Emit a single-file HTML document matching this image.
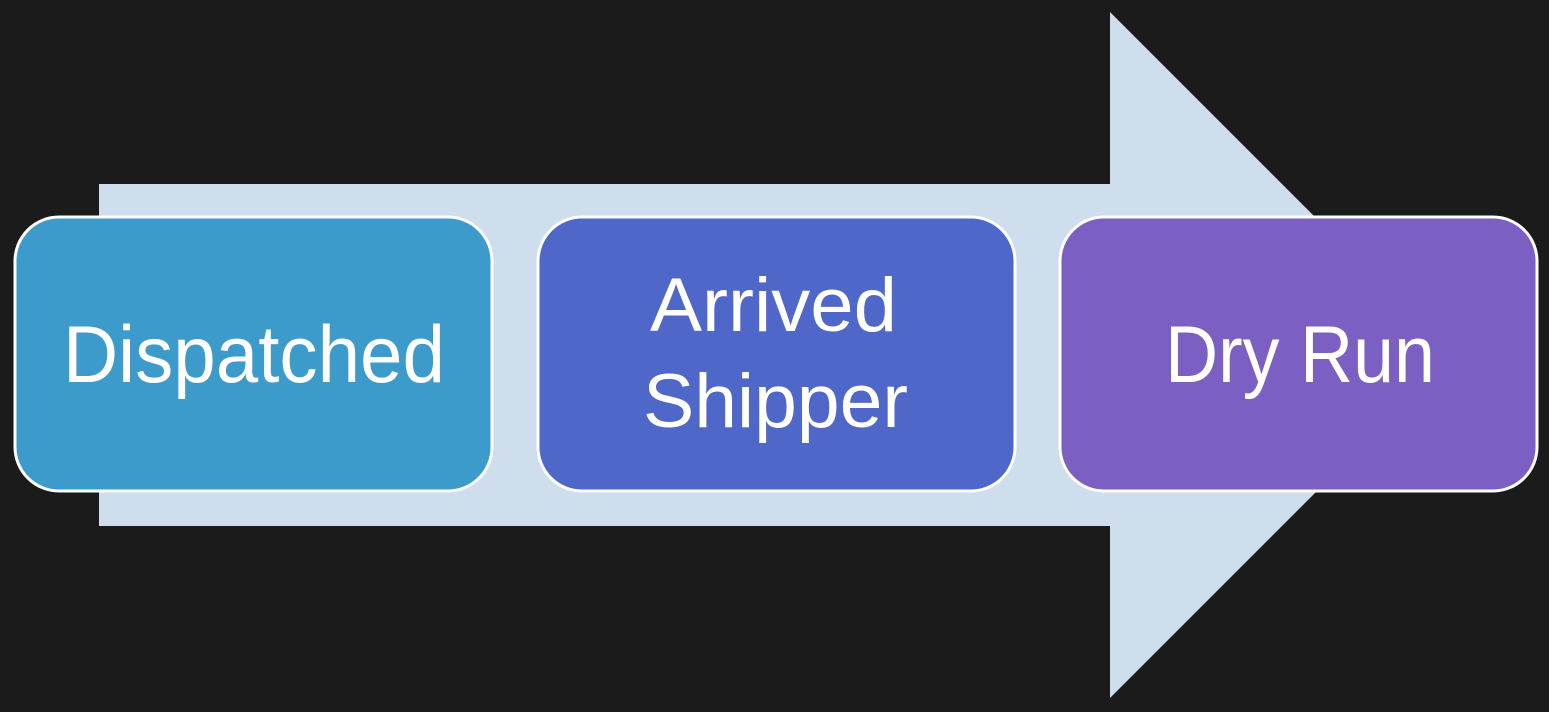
<!DOCTYPE html>
<html>
<head>
<meta charset="utf-8">
<style>
  html, body { margin:0; padding:0; background:#1b1b1b; }
  svg { display:block; }
  text { font-family: "Liberation Sans", sans-serif; fill:#ffffff; }
</style>
</head>
<body>
<svg width="1549" height="712" viewBox="0 0 1549 712" xmlns="http://www.w3.org/2000/svg">
  <rect x="0" y="0" width="1549" height="712" fill="#1b1b1b"/>
  <polygon points="99,184 1110,184 1110,12 1453,355 1110,698 1110,526 99,526" fill="#cfdeec"/>
  <rect x="15" y="217" width="477" height="274" rx="44" ry="44" fill="#3d9bcc" stroke="#ffffff" stroke-width="3"/>
  <rect x="538" y="217" width="477" height="274" rx="44" ry="44" fill="#4f67c9" stroke="#ffffff" stroke-width="3"/>
  <rect x="1060" y="217" width="477" height="274" rx="44" ry="44" fill="#7b5fc3" stroke="#ffffff" stroke-width="3"/>
  <text x="63" y="382" font-size="81" textLength="382" lengthAdjust="spacingAndGlyphs">Dispatched</text>
  <text x="650" y="331" font-size="76" textLength="247" lengthAdjust="spacingAndGlyphs">Arrived</text>
  <text x="643" y="427" font-size="76" textLength="265" lengthAdjust="spacingAndGlyphs">Shipper</text>
  <text x="1165" y="382" font-size="81" textLength="270" lengthAdjust="spacingAndGlyphs">Dry Run</text>
</svg>
</body>
</html>
